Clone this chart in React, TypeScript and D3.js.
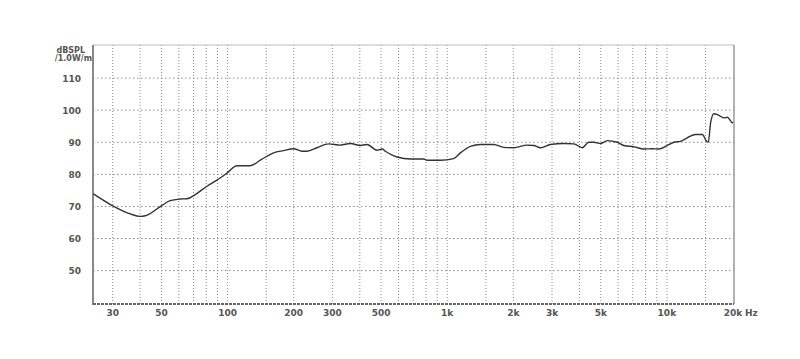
import React from "react";
import * as d3 from "d3";

const freqs = [
  24.5, 30, 36, 40, 42.2, 50, 54.8, 60.9, 65.3, 71.3, 80.6, 89.5, 99.4, 110.4, 126.9, 140.9,
  162, 179.9, 199.8, 218.3, 230, 255.5, 288.5, 326.2, 337.8, 362.2, 402.3, 431.6, 479.4, 505.2,
  523, 591.3, 679.8, 781.5, 809.9, 931.1, 1070, 1148, 1275, 1417, 1629, 1809, 2009, 2312, 2479,
  2658, 2952, 3395, 3771, 4118, 4413, 4650, 4989, 5350, 5943, 6370, 7074, 7858, 8580, 9195,
  10042, 10762, 11545, 12389, 13514, 14499, 15168, 15440, 15817, 16375, 17257, 18186, 18846,
  19861, 20000,
];
const spl = [
  73.9, 70.2, 67.7, 66.9, 67.1, 70.2, 71.8, 72.3, 72.4, 73.7, 76.3, 78.2, 80.4, 82.7, 82.7, 84.4,
  86.7, 87.4, 88.0, 87.2, 87.2, 88.3, 89.5, 89.1, 89.3, 89.6, 89.0, 89.3, 87.5, 87.9,
  87.2, 85.4, 84.8, 84.8, 84.4, 84.4, 84.9, 86.7, 88.7, 89.3, 89.3, 88.4, 88.3, 89.1, 89.0,
  88.3, 89.3, 89.6, 89.5, 88.3, 90.0, 90.0, 89.6, 90.5, 90.0, 89.0, 88.6, 87.9, 88.0, 87.9,
  89.0, 90.0, 90.3, 91.4, 92.4, 92.4, 90.3, 90.0, 96.1, 98.9, 98.4, 97.6, 97.8,
  96.1, 96.3,
];

const yTicks = [50, 60, 70, 80, 90, 100, 110];
const xTickValues = [30, 50, 100, 200, 300, 500, 1000, 2000, 3000, 5000, 10000, 20000];
const xTickLabels = ["30", "50", "100", "200", "300", "500", "1k", "2k", "3k", "5k", "10k", "20k"];
const gridFreqs = [
  30, 40, 50, 60, 70, 80, 90, 100, 150, 200, 300, 400, 500, 600, 700, 800, 900, 1000, 1500,
  2000, 3000, 4000, 5000, 6000, 7000, 8000, 9000, 10000, 15000,
];

const W = 800;
const H = 359;
const left = 93;
const right = 734;
const top = 45;
const bottom = 304;

export default function App() {
  const x = d3.scaleLog().domain([24.4, 20000]).range([left, 733]);
  const y = d3.scaleLinear().domain([40, 120]).range([302.7, 46]);
  const line = d3
    .line<number>()
    .x((_, i) => x(freqs[i]))
    .y((d) => y(d))
    .curve(d3.curveMonotoneX);
  const font = "'DejaVu Sans', Verdana, sans-serif";
  return (
    <svg
      width={W}
      height={H}
      style={{ position: "absolute", left: 0, top: 0, background: "#fff" }}
    >
      {/* vertical grid */}
      {gridFreqs.map((f) => (
        <line
          key={"vg" + f}
          x1={x(f)}
          x2={x(f)}
          y1={top}
          y2={bottom}
          stroke="#8a8a8a"
          strokeWidth={1}
          strokeDasharray="1,2"
        />
      ))}
      {/* horizontal grid */}
      {yTicks.map((v) => (
        <line
          key={"hg" + v}
          x1={left}
          x2={right}
          y1={y(v)}
          y2={y(v)}
          stroke="#8a8a8a"
          strokeWidth={1}
          strokeDasharray="1.5,2.5"
        />
      ))}
      {/* frame */}
      <line x1={left} x2={right} y1={top} y2={top} stroke="#bbb" strokeWidth={1} />
      <line x1={right} x2={right} y1={top} y2={bottom} stroke="#999" strokeWidth={1.5} />
      <line x1={left} x2={left} y1={top} y2={bottom + 1} stroke="#888" strokeWidth={2} />
      <line x1={left} x2={right} y1={bottom} y2={bottom} stroke="#666" strokeWidth={2} strokeDasharray="3,1" />
      {/* curve */}
      <path d={line(spl) || ""} fill="none" stroke="#333" strokeWidth={1.4} />
      {/* y labels */}
      {yTicks.map((v) => (
        <text
          key={"yl" + v}
          x={81}
          y={y(v) + 3.5}
          textAnchor="end"
          fontFamily={font}
          fontWeight="bold"
          fontSize={9}
          fill="#555"
        >
          {v}
        </text>
      ))}
      <text x={85} y={53} textAnchor="end" fontFamily={font} fontWeight="bold" fontSize={8} fill="#555">
        dBSPL
      </text>
      <text x={92} y={61} textAnchor="end" fontFamily={font} fontWeight="bold" fontSize={8} fill="#555">
        /1.0W/m
      </text>
      {/* x labels */}
      {xTickValues.map((f, i) => (
        <text
          key={"xl" + f}
          x={x(f)}
          y={316}
          textAnchor="middle"
          fontFamily={font}
          fontWeight="bold"
          fontSize={9}
          fill="#555"
        >
          {xTickLabels[i]}
        </text>
      ))}
      <text x={x(20000) + 12} y={316} textAnchor="start" fontFamily={font} fontWeight="bold" fontSize={9} fill="#555">
        Hz
      </text>
    </svg>
  );
}
